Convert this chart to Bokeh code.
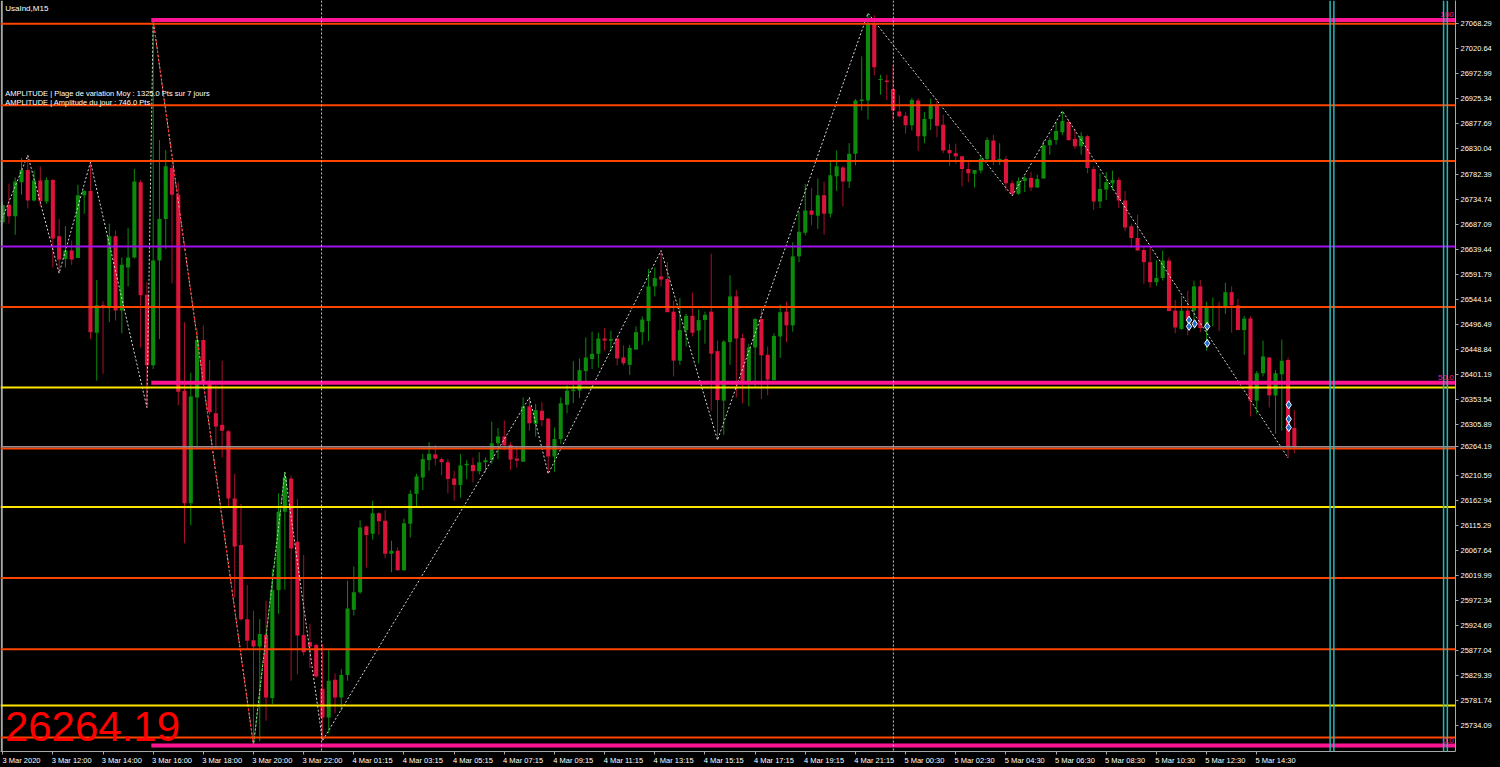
import numpy as np
from bokeh.plotting import figure
from bokeh.models import Range1d, Span, Label, FixedTicker, PrintfTickFormatter, ColumnDataSource
from bokeh.embed import file_html
from bokeh.resources import INLINE

# ---------------- data (UsaInd, M15) ----------------
opens = [26691, 26724, 26702, 26767, 26790, 26732, 26770, 26730, 26771, 26664,
         26621, 26637, 26623, 26742, 26750, 26481, 26533, 26530, 26664, 26523,
         26605, 26624, 26767, 26553, 26419, 26618, 26697, 26794, 26743, 26371,
         26157, 26358, 26467, 26390, 26328, 26306, 26294, 26166, 26078, 25937,
         25897, 25885, 25907, 25787, 25992, 26141, 26204, 26084, 25907, 25893,
         25888, 25805, 25750, 25822, 25788, 25831, 25955, 25988, 26113, 26099,
         26138, 26124, 26061, 26067, 26030, 26118, 26175, 26206, 26239, 26250,
         26241, 26235, 26204, 26192, 26229, 26230, 26218, 26235, 26239, 26271,
         26284, 26268, 26242, 26236, 26341, 26308, 26333, 26318, 26246, 26279,
         26344, 26370, 26371, 26408, 26431, 26441, 26470, 26466, 26470, 26434,
         26420, 26449, 26482, 26503, 26569, 26588, 26583, 26521, 26428, 26486,
         26513, 26485, 26505, 26521, 26446, 26352, 26463, 26550, 26471, 26387,
         26453, 26507, 26439, 26391, 26474, 26521, 26495, 26626, 26671, 26713,
         26703, 26742, 26707, 26778, 26795, 26768, 26821, 26921, 26922, 27069,
         26961, 26960, 26944, 26901, 26893, 26875, 26922, 26854, 26887, 26913,
         26876, 26828, 26822, 26816, 26792, 26783, 26789, 26811, 26846, 26808,
         26811, 26765, 26745, 26769, 26775, 26757, 26774, 26837, 26847, 26862,
         26881, 26849, 26835, 26854, 26792, 26730, 26753, 26765, 26771, 26732,
         26683, 26661, 26638, 26615, 26577, 26585, 26618, 26523, 26488, 26523,
         26523, 26569, 26491, 26528, 26532, 26528, 26558, 26533, 26486, 26508,
         26352, 26404, 26434, 26362, 26402, 26429, 26300]
highs = [26728, 26764, 26776, 26813, 26819, 26789, 26797, 26776, 26773, 26697,
         26683, 26656, 26762, 26752, 26805, 26581, 26541, 26688, 26675, 26624,
         26680, 26792, 26771, 26577, 27075, 26847, 26828, 26800, 26767, 26501,
         26405, 26486, 26495, 26429, 26381, 26428, 26296, 26213, 26156, 26002,
         25953, 25937, 25972, 26032, 26176, 26216, 26210, 26165, 26059, 25928,
         25890, 25890, 25878, 25834, 25842, 26010, 26037, 26125, 26115, 26162,
         26140, 26144, 26086, 26073, 26128, 26182, 26213, 26251, 26273, 26268,
         26244, 26241, 26219, 26251, 26239, 26244, 26254, 26244, 26312, 26300,
         26314, 26273, 26265, 26358, 26358, 26346, 26349, 26318, 26301, 26358,
         26381, 26427, 26432, 26472, 26483, 26481, 26490, 26485, 26472, 26457,
         26458, 26493, 26512, 26602, 26605, 26637, 26615, 26542, 26547, 26517,
         26557, 26525, 26521, 26631, 26466, 26467, 26590, 26562, 26479, 26460,
         26509, 26526, 26455, 26480, 26534, 26540, 26653, 26711, 26764, 26756,
         26774, 26768, 26806, 26827, 26798, 26841, 26925, 27006, 27088, 27084,
         26971, 26971, 26989, 26932, 26900, 26927, 26926, 26900, 26926, 26925,
         26895, 26840, 26840, 26816, 26805, 26790, 26818, 26852, 26857, 26841,
         26816, 26770, 26776, 26779, 26786, 26781, 26846, 26852, 26881, 26902,
         26885, 26868, 26862, 26856, 26797, 26784, 26786, 26789, 26776, 26750,
         26688, 26705, 26646, 26645, 26619, 26637, 26624, 26543, 26550, 26561,
         26580, 26581, 26540, 26548, 26540, 26576, 26569, 26545, 26513, 26512,
         26408, 26466, 26434, 26410, 26468, 26434, 26334]
lows = [26688, 26688, 26667, 26743, 26717, 26730, 26721, 26726, 26605, 26594,
        26605, 26610, 26623, 26707, 26469, 26390, 26403, 26501, 26504, 26480,
        26569, 26622, 26453, 26339, 26412, 26469, 26640, 26575, 26343, 26081,
        26115, 26260, 26385, 26325, 26260, 26244, 26151, 25978, 25934, 25880,
        25697, 25705, 25744, 25776, 25947, 25993, 25820, 25832, 25868, 25844,
        25826, 25706, 25720, 25758, 25763, 25820, 25944, 25985, 26035, 26088,
        26097, 26053, 26026, 26029, 26029, 26092, 26151, 26182, 26219, 26229,
        26210, 26176, 26162, 26168, 26203, 26197, 26212, 26216, 26232, 26241,
        26258, 26220, 26225, 26236, 26295, 26284, 26303, 26213, 26217, 26270,
        26328, 26347, 26357, 26389, 26412, 26415, 26447, 26447, 26419, 26419,
        26401, 26449, 26458, 26465, 26550, 26569, 26520, 26398, 26420, 26455,
        26474, 26423, 26460, 26333, 26277, 26287, 26420, 26358, 26347, 26341,
        26379, 26355, 26362, 26390, 26433, 26463, 26483, 26615, 26666, 26685,
        26678, 26667, 26700, 26750, 26721, 26756, 26799, 26903, 26886, 26970,
        26933, 26923, 26885, 26890, 26859, 26865, 26826, 26841, 26866, 26852,
        26822, 26798, 26802, 26759, 26767, 26757, 26784, 26808, 26799, 26800,
        26751, 26741, 26743, 26748, 26750, 26756, 26774, 26819, 26838, 26856,
        26845, 26830, 26819, 26784, 26714, 26718, 26733, 26752, 26718, 26674,
        26642, 26637, 26574, 26567, 26570, 26580, 26522, 26480, 26486, 26476,
        26488, 26482, 26447, 26493, 26484, 26517, 26481, 26486, 26439, 26322,
        26327, 26398, 26339, 26289, 26295, 26243, 26252]
closes = [26723, 26702, 26768, 26790, 26732, 26770, 26731, 26771, 26660, 26620,
          26637, 26620, 26742, 26750, 26482, 26533, 26530, 26664, 26523, 26610,
          26624, 26768, 26552, 26419, 26618, 26697, 26797, 26743, 26369, 26157,
          26360, 26467, 26390, 26330, 26303, 26295, 26166, 26075, 25937, 25896,
          25885, 25909, 25788, 25992, 26141, 26206, 26071, 25906, 25874, 25885,
          25828, 25750, 25820, 25788, 25831, 25957, 25988, 26111, 26097, 26138,
          26123, 26061, 26067, 26030, 26119, 26175, 26208, 26241, 26251, 26242,
          26235, 26203, 26192, 26229, 26232, 26218, 26235, 26239, 26271, 26284,
          26267, 26240, 26238, 26341, 26309, 26334, 26315, 26246, 26279, 26347,
          26371, 26373, 26410, 26434, 26441, 26470, 26466, 26469, 26432, 26423,
          26452, 26482, 26506, 26569, 26585, 26582, 26520, 26428, 26486, 26513,
          26481, 26505, 26515, 26441, 26353, 26464, 26550, 26470, 26387, 26453,
          26507, 26438, 26392, 26475, 26520, 26495, 26626, 26673, 26713, 26705,
          26742, 26707, 26780, 26797, 26768, 26821, 26922, 26924, 27069, 26985,
          26963, 26957, 26903, 26892, 26875, 26923, 26854, 26887, 26913, 26874,
          26827, 26822, 26816, 26792, 26784, 26790, 26811, 26847, 26807, 26811,
          26765, 26745, 26769, 26775, 26757, 26773, 26837, 26847, 26864, 26883,
          26847, 26835, 26854, 26794, 26730, 26754, 26767, 26771, 26732, 26681,
          26661, 26637, 26615, 26577, 26585, 26618, 26522, 26491, 26523, 26504,
          26569, 26490, 26529, 26530, 26528, 26558, 26533, 26486, 26508, 26352,
          26404, 26436, 26362, 26404, 26428, 26263, 26264.19]

time_labels = ["3 Mar 2020", "3 Mar 12:00", "3 Mar 14:00", "3 Mar 16:00", "3 Mar 18:00",
               "3 Mar 20:00", "3 Mar 22:00", "4 Mar 01:15", "4 Mar 03:15", "4 Mar 05:15",
               "4 Mar 07:15", "4 Mar 09:15", "4 Mar 11:15", "4 Mar 13:15", "4 Mar 15:15",
               "4 Mar 17:15", "4 Mar 19:15", "4 Mar 21:15", "5 Mar 00:30", "5 Mar 02:30",
               "5 Mar 04:30", "5 Mar 06:30", "5 Mar 08:30", "5 Mar 10:30", "5 Mar 12:30",
               "5 Mar 14:30"]
label_bars = [0, 8, 16, 24, 32, 40, 48, 56, 64, 72, 80, 88, 96, 104, 112, 120, 128,
              136, 144, 152, 160, 168, 176, 184, 192, 200]

y_tick_values = [27068.29, 27020.64, 26972.99, 26925.34, 26877.69, 26830.04, 26782.39,
                 26734.74, 26687.09, 26639.44, 26591.79, 26544.14, 26496.49, 26448.84,
                 26401.19, 26353.54, 26305.89, 26258.24, 26210.59, 26162.94, 26115.29,
                 26067.64, 26019.99, 25972.34, 25924.69, 25877.04, 25829.39, 25781.74,
                 25734.09]

zigzag_bars = [-2, 4, 9, 14, 23, 24, 40, 45, 51, 84, 87, 105, 114, 138, 161, 169, 205]
zigzag_prices = [26642, 26818, 26594, 26805, 26339, 27075, 25697, 26216, 25706, 26358,
                 26213, 26637, 26277, 27088, 26741, 26902, 26243]

fib_from_bar = 24
fib_to_bar = 40
fib_ratios = [1.0, 0.5, 0.0]
fib_texts = ["100", "50.0", "0.0"]
swing_end_bar = 45

orange_levels = [27068, 26913, 26807, 26530, 26261, 26015, 25880, 25712]
purple_levels = [26645]
yellow_levels = [26377, 26150, 25773]
current_price = 26264.19

day_separator_bars = [50.85, 142.05]
cyan_line_bars = [211.7, 212.3, 229.8, 230.4]

marker_bars = [189.2, 189.2, 190.1, 192.1, 192.1, 205.1, 205.1, 205.1]
marker_prices = [26505, 26493, 26498, 26493, 26461, 26344, 26317, 26301]

symbol_text = "UsaInd,M15"
amplitude_texts = ["AMPLITUDE | Plage de variation Moy : 1325.0 Pts sur 7 jours",
                   "AMPLITUDE | Amplitude du jour : 746.0 Pts"]

# ---------------- figure ----------------
X0, X1 = -0.35, 231.7
Y0, Y1 = 25685.6, 27112.0

p = figure(width=1500, height=767, output_backend="svg", toolbar_location=None,
           x_range=Range1d(X0, X1), y_range=Range1d(Y0, Y1),
           y_axis_location="right", min_border_left=0, min_border_top=0,
           min_border_right=45, min_border_bottom=16)
p.background_fill_color = "#000000"
p.border_fill_color = "#000000"
p.outline_line_color = None
p.grid.visible = False

AX = "#a8a8a8"
FONT = "Liberation Sans"

# x axis: labels start at the bar tick (MetaTrader style)
p.xaxis.ticker = FixedTicker(ticks=[b + 3 for b in label_bars], minor_ticks=label_bars)
p.xaxis.major_label_overrides = {b + 3: t for b, t in zip(label_bars, time_labels)}
p.xaxis.axis_line_color = AX
p.xaxis.major_tick_line_color = None
p.xaxis.major_tick_out = 3
p.xaxis.major_tick_in = 0
p.xaxis.minor_tick_line_color = AX
p.xaxis.minor_tick_out = 3
p.xaxis.minor_tick_in = 0
p.xaxis.major_label_standoff = 1
p.xaxis.major_label_text_color = "#ffffff"
p.xaxis.major_label_text_font = FONT
p.xaxis.major_label_text_font_size = "7.5px"

# price scale (current price shown in place of the tick it covers)
shown_ticks = [current_price if abs(t - current_price) < 10 else t for t in y_tick_values]
p.yaxis.ticker = FixedTicker(ticks=shown_ticks)
p.yaxis.formatter = PrintfTickFormatter(format="%.2f")
p.yaxis.axis_line_color = AX
p.yaxis.major_tick_line_color = AX
p.yaxis.major_tick_out = 3
p.yaxis.major_tick_in = 0
p.yaxis.minor_tick_line_color = None
p.yaxis.major_label_standoff = 2
p.yaxis.major_label_text_color = "#ffffff"
p.yaxis.major_label_text_font = FONT
p.yaxis.major_label_text_font_size = "7.5px"

# left chart border
p.add_layout(Span(location=X0 + 0.2, dimension="height", line_color=AX, line_width=2))

# ---------------- candles ----------------
o = np.array(opens, dtype=float)
h = np.array(highs, dtype=float)
l = np.array(lows, dtype=float)
c = np.array(closes, dtype=float)
bars = np.arange(len(o))
up = c >= o
top = np.maximum(o, c)
bot = np.minimum(o, c)
mid = (top + bot) / 2
minh = 1.8
small = (top - bot) < minh
top = np.where(small, mid + minh / 2, top)
bot = np.where(small, mid - minh / 2, bot)

src = ColumnDataSource(dict(
    x=bars, top=top, bot=bot, high=h, low=l,
    body=np.where(up, "#0b8a0b", "#dc143c"),
    wick=np.where(up, "#0b8a0b", "#a8102c"),
))
p.segment(x0="x", y0="low", x1="x", y1="high", source=src, line_color="wick", line_width=1)
p.vbar(x="x", width=0.65, top="top", bottom="bot", source=src, fill_color="body", line_color=None)

# ---------------- zigzag lines ----------------
p.line(zigzag_bars, zigzag_prices, line_color="#d8d8d8", line_dash="2 2", line_width=1)
fib_high = highs[fib_from_bar]
fib_low = lows[fib_to_bar]
p.line([fib_from_bar, fib_to_bar], [fib_high, fib_low], line_color="#ff2020",
       line_dash="3 2", line_width=1)
p.line([fib_to_bar, swing_end_bar], [fib_low, highs[swing_end_bar]], line_color="#20c020",
       line_dash="2 2", line_width=1)

# ---------------- markers ----------------
p.scatter(marker_bars, marker_prices, marker="diamond", size=8,
          fill_color="#1f6fd0", line_color="#ffffff", line_width=1)

# ---------------- levels ----------------
for lv in orange_levels:
    p.add_layout(Span(location=lv, dimension="width", line_color="#ff4500", line_width=2))
for lv in purple_levels:
    p.add_layout(Span(location=lv, dimension="width", line_color="#a010e8", line_width=2))
for lv in yellow_levels:
    p.add_layout(Span(location=lv, dimension="width", line_color="#ffe600", line_width=2))
p.add_layout(Span(location=current_price, dimension="width", line_color="#9a8a95", line_width=1.5))

for b in day_separator_bars:
    p.add_layout(Span(location=b, dimension="height", line_color="#c8c8c8",
                      line_dash="2 2", line_width=1))
for b in cyan_line_bars:
    p.add_layout(Span(location=b, dimension="height", line_color="#22b8b8", line_width=1.5))

# fibonacci levels
fib_prices = [fib_low + r * (fib_high - fib_low) for r in fib_ratios]
p.segment(x0=[fib_from_bar - 0.3] * 3, y0=fib_prices, x1=[X1 + 1] * 3, y1=fib_prices,
          line_color="#ff1493", line_width=4)
for fp, ft in zip(fib_prices, fib_texts):
    p.add_layout(Label(x=X1 - 0.3, y=fp + 5, text=ft, text_align="right",
                       text_baseline="bottom", text_color="#ff1493",
                       text_font=FONT, text_font_size="8px"))

# ---------------- texts ----------------
p.add_layout(Label(x=0.4, y=27097, text=symbol_text, text_baseline="middle",
                   text_color="#ffffff", text_font=FONT, text_font_size="8px"))
for t, yy in zip(amplitude_texts, [26936, 26919]):
    p.add_layout(Label(x=0.4, y=yy, text=t, text_baseline="middle",
                       text_color="#ffffff", text_font=FONT, text_font_size="7.5px"))
p.add_layout(Label(x=0.35, y=25734, text="%.2f" % current_price, text_baseline="middle",
                   text_color="#ff0000", text_font=FONT, text_font_size="42px"))

html = file_html(p, INLINE)
html = html.replace("</head>", "<style>html,body{background:#000000;}</style></head>", 1)
open("out.html", "w").write(html)
